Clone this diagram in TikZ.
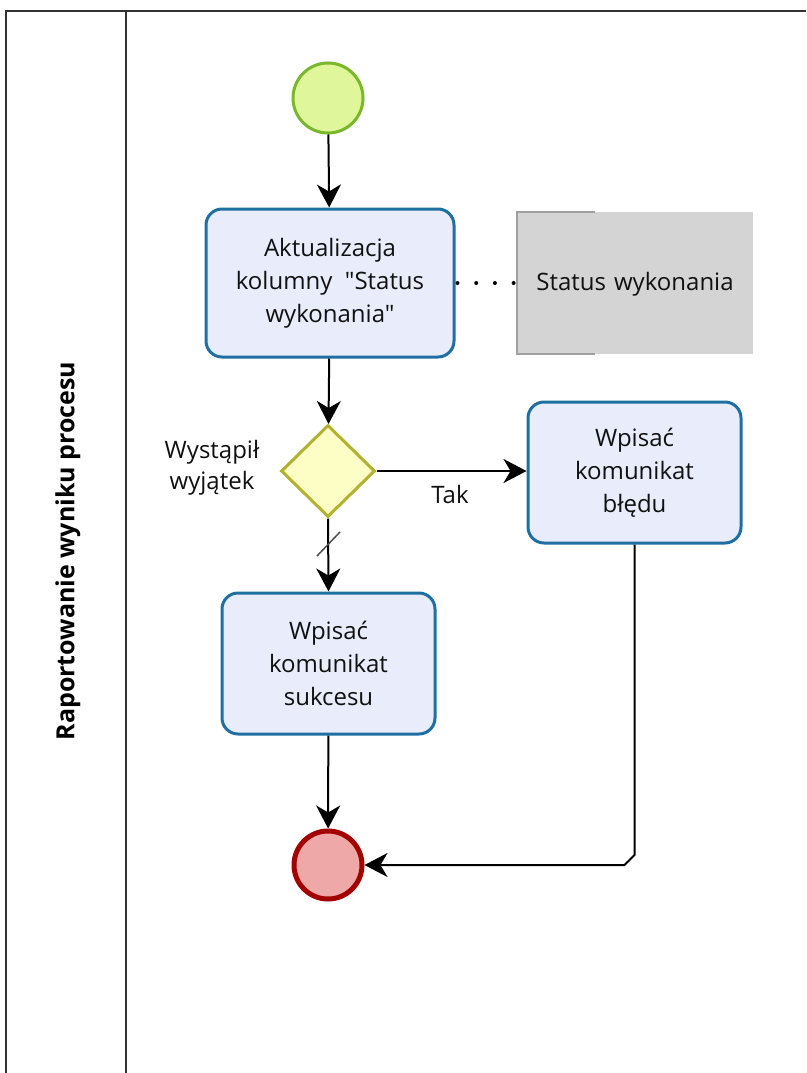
\documentclass[tikz,border=0pt]{standalone}
\usepackage{fontspec}
\setmainfont{Open Sans}[Ligatures=TeXOff]
\usetikzlibrary{arrows.meta,shapes.geometric}
\definecolor{taskfill}{HTML}{E8ECFB}
\definecolor{taskline}{HTML}{1F6FA3}
\definecolor{startfill}{HTML}{DFF79A}
\definecolor{startline}{HTML}{78B82A}
\definecolor{gwfill}{HTML}{FDFDC6}
\definecolor{gwline}{HTML}{B2B22E}
\definecolor{endfill}{HTML}{EFA8A8}
\definecolor{endline}{HTML}{A30000}
\definecolor{datafill}{HTML}{D4D4D4}
\definecolor{dataline}{HTML}{A0A0A0}
\definecolor{lanegray}{HTML}{333333}
\definecolor{txt}{HTML}{111111}
\tikzset{
  task/.style={draw=taskline, fill=taskfill, line width=3pt, rounded corners=16pt,
    align=center, text=txt, font=\fontsize{24}{33}\selectfont, inner sep=0pt},
  flow/.style={draw=black, line width=2pt, -{Stealth[length=23pt,width=24pt,inset=7pt]}},
  lbl/.style={text=txt, font=\fontsize{24}{31}\selectfont, align=center, inner sep=0pt},
}
\begin{document}
\begin{tikzpicture}[x=1pt,y=-1pt]
\useasboundingbox (0,0) rectangle (806,1073);
% pool and lane frame
\draw[lanegray, line width=2pt] (806,11) -- (6,11) -- (6,1073);
\draw[lanegray, line width=2pt] (126,11) -- (126,1073);
\node[rotate=90, font=\fontsize{25}{28}\selectfont\bfseries, text=black] (lane) at (68,551) {Raportowanie wyniku procesu};

% events
\node[circle, draw=startline, fill=startfill, line width=3pt, minimum size=70pt, inner sep=0pt] (start) at (328,98) {};
\node[circle, draw=endline, fill=endfill, line width=5pt, minimum size=68pt, inner sep=0pt] (end) at (328,865) {};

% tasks
\node[task, minimum width=248pt, minimum height=148pt] (upd) at (330,283)
  {Aktualizacja\\kolumny~~"Status\\wykonania"};
\node[task, minimum width=213pt, minimum height=141pt] (err) at (634.5,472.5)
  {Wpisać\\komunikat\\błędu};
\node[task, minimum width=213pt, minimum height=141pt] (ok) at (328.5,663.5)
  {Wpisać\\komunikat\\sukcesu};

% gateway
\node[diamond, draw=gwline, fill=gwfill, line width=3pt, minimum width=94pt, minimum height=92pt, inner sep=0pt] (gw) at (328,471) {};
\node[lbl] (gwlabel) at (212,468) {Wystąpił\\wyjątek};

% data object
\fill[datafill] (517,212) rectangle (753,354);
\draw[dataline, line width=2pt] (595,212) -- (517,212) -- (517,354) -- (595,354);
\node[lbl, text width=236pt] (data) at (635,284) {Status wykonania};
\coordinate (dataW) at (517,283);

% association
\draw[black, line width=4pt, line cap=round, dash pattern=on 0pt off 18.7pt] (upd.east) ++(2,0) -- (dataW);

% sequence flows
\draw[flow] (start) -- (upd);
\draw[flow] (upd) -- (gw);
\draw[flow] (gw.east) -- (gw.east -| err.west) node[lbl, pos=0.49, below=13pt] (tak) {Tak};
\draw[flow] (gw.south) -- (ok.north);
\draw[gray!60!black, line width=1.5pt] (317,556) -- (340,532);
\draw[flow] (ok) -- (end);
\coordinate (c1) at (634.5,855);
\coordinate (c2) at (624.5,865);
\draw[flow] (err.south) -- (c1) -- (c2) -- (end.east);
\end{tikzpicture}
\end{document}
